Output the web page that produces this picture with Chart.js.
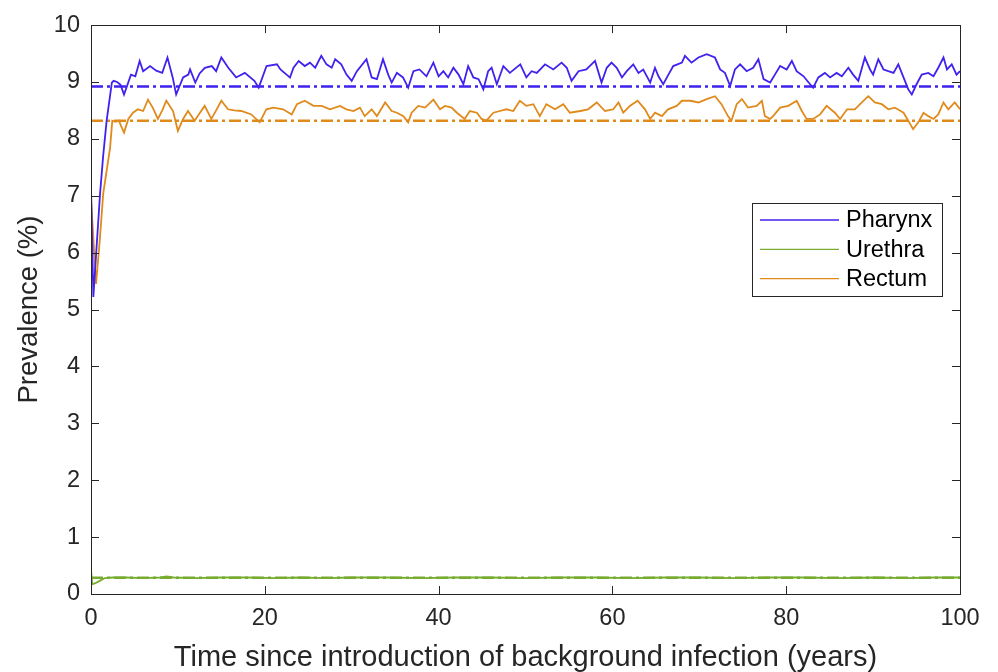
<!DOCTYPE html>
<html>
<head>
<meta charset="utf-8">
<script src="https://cdn.jsdelivr.net/npm/chart.js@4/dist/chart.umd.min.js"></script>
<style>
  html, body { margin: 0; padding: 0; background: #fff; }
  #wrap { width: 998px; height: 672px; position: relative; }
</style>
</head>
<body>
<div id="wrap"><canvas id="prev_chart"></canvas></div>
<script>
// [years, prevalence %]
const pharynx = [[0, 7.15], [0.27, 5.22], [0.6, 6.0], [1.04, 7.03], [1.4, 7.7], [1.8, 8.32], [2.4, 8.99], [2.6, 9.02], [3.0, 9.0], [3.4, 8.95], [3.8, 8.78], [4.6, 9.13], [5.1, 9.1], [5.6, 9.37], [6.0, 9.19], [6.8, 9.28], [7.5, 9.2], [8.2, 9.16], [8.8, 9.43], [9.4, 9.08], [9.8, 8.78], [10.6, 9.08], [11.2, 9.13], [11.4, 9.22], [12.0, 8.99], [12.5, 9.15], [13.1, 9.25], [13.9, 9.28], [14.4, 9.19], [15.0, 9.43], [15.8, 9.25], [16.7, 9.08], [17.7, 9.16], [18.8, 9.02], [19.3, 8.90], [20.2, 9.28], [21.4, 9.31], [21.8, 9.22], [22.5, 9.13], [22.9, 9.08], [23.3, 9.25], [23.9, 9.37], [24.6, 9.28], [25.2, 9.34], [25.8, 9.25], [26.5, 9.46], [27.1, 9.31], [27.7, 9.25], [28.1, 9.40], [28.8, 9.31], [29.4, 9.13], [30.0, 9.02], [30.6, 9.19], [31.7, 9.40], [32.3, 9.08], [32.9, 9.05], [33.6, 9.40], [34.2, 9.13], [34.6, 8.99], [35.2, 9.16], [35.9, 9.08], [36.5, 8.90], [37.1, 9.19], [37.8, 9.22], [38.6, 9.10], [39.4, 9.34], [40.0, 9.10], [40.55, 9.19], [41.1, 9.08], [41.7, 9.25], [42.3, 9.13], [42.85, 8.96], [43.4, 9.28], [44.0, 9.08], [44.6, 9.05], [45.15, 8.87], [45.7, 9.19], [46.1, 9.25], [46.7, 8.96], [47.45, 9.28], [48.2, 9.16], [49.4, 9.31], [50.1, 9.08], [50.7, 9.19], [51.3, 9.16], [52.25, 9.31], [53.2, 9.22], [54.15, 9.34], [54.75, 9.25], [55.3, 9.02], [56.1, 9.19], [57.0, 9.22], [58.0, 9.37], [58.75, 8.99], [59.35, 9.25], [59.9, 9.34], [60.5, 9.25], [61.1, 9.08], [61.65, 9.19], [62.4, 9.31], [63.0, 9.16], [63.55, 9.22], [64.35, 8.99], [64.9, 9.25], [65.3, 9.10], [65.85, 8.96], [66.45, 9.13], [67.0, 9.28], [68.0, 9.34], [68.35, 9.46], [69.1, 9.34], [69.9, 9.43], [70.85, 9.49], [71.8, 9.43], [72.4, 9.22], [72.95, 9.16], [73.55, 8.93], [74.1, 9.22], [74.7, 9.31], [75.45, 9.19], [76.2, 9.25], [76.8, 9.40], [77.4, 9.05], [78.15, 8.99], [78.7, 9.13], [79.3, 9.28], [80.05, 9.22], [80.65, 9.37], [81.2, 9.19], [82.0, 9.10], [82.75, 8.96], [83.1, 8.90], [83.7, 9.08], [84.45, 9.16], [85.05, 9.08], [85.8, 9.16], [86.4, 9.10], [87.15, 9.25], [87.7, 9.13], [88.3, 9.02], [89.05, 9.43], [89.65, 9.22], [90.0, 9.13], [90.6, 9.40], [91.2, 9.22], [91.75, 9.19], [92.35, 9.16], [92.9, 9.31], [93.5, 9.08], [94.05, 8.87], [94.45, 8.78], [95.0, 8.96], [95.6, 9.13], [96.35, 9.16], [96.95, 9.10], [97.5, 9.25], [98.1, 9.43], [98.5, 9.22], [99.05, 9.31], [99.6, 9.13], [100, 9.19]];

const urethra = [[0, 0.42], [0.15, 0.17], [0.5, 0.19], [1.0, 0.23], [1.6, 0.28], [2.5, 0.29], [4, 0.29], [6, 0.28], [8, 0.29], [8.7, 0.31], [9.5, 0.29], [12, 0.28], [15, 0.29], [18, 0.29], [21, 0.28], [24, 0.29], [27, 0.28], [30, 0.29], [34, 0.29], [38, 0.28], [42, 0.29], [46, 0.29], [50, 0.28], [54, 0.29], [58, 0.29], [62, 0.28], [66, 0.29], [70, 0.29], [74, 0.28], [78, 0.29], [82, 0.29], [86, 0.28], [90, 0.29], [94, 0.28], [97, 0.29], [100, 0.29]];

const rectum = [[0, 6.95], [0.58, 5.45], [1.0, 6.2], [1.4, 7.03], [2.2, 7.85], [2.45, 8.32], [2.8, 8.30], [3.2, 8.32], [3.8, 8.11], [4.3, 8.35], [4.83, 8.46], [5.4, 8.52], [6.0, 8.49], [6.56, 8.69], [7.1, 8.55], [7.7, 8.35], [8.2, 8.50], [8.67, 8.67], [9.44, 8.49], [10.0, 8.14], [10.6, 8.35], [11.16, 8.49], [11.93, 8.32], [12.5, 8.45], [13.08, 8.58], [13.85, 8.35], [14.4, 8.50], [15.0, 8.67], [15.76, 8.52], [16.5, 8.50], [17.3, 8.49], [18.45, 8.43], [19.41, 8.29], [20.18, 8.52], [21.0, 8.55], [22.1, 8.52], [23.1, 8.43], [23.7, 8.61], [24.6, 8.67], [25.6, 8.58], [26.55, 8.58], [27.5, 8.52], [28.65, 8.58], [29.4, 8.52], [30.2, 8.49], [30.95, 8.55], [31.5, 8.40], [32.3, 8.52], [32.9, 8.40], [33.85, 8.64], [34.6, 8.49], [35.2, 8.46], [35.95, 8.40], [36.5, 8.29], [36.9, 8.46], [37.65, 8.58], [38.45, 8.55], [39.4, 8.69], [40.16, 8.52], [40.74, 8.58], [41.5, 8.55], [42.1, 8.46], [43.0, 8.35], [43.6, 8.49], [44.4, 8.46], [44.95, 8.35], [45.5, 8.32], [46.3, 8.46], [47.05, 8.49], [47.8, 8.52], [48.6, 8.49], [49.35, 8.67], [50.1, 8.58], [50.9, 8.61], [51.65, 8.40], [52.4, 8.61], [53.4, 8.52], [54.35, 8.61], [55.1, 8.46], [56.3, 8.49], [57.2, 8.52], [58.2, 8.64], [59.15, 8.49], [60.1, 8.52], [60.7, 8.64], [61.25, 8.46], [62.0, 8.58], [62.9, 8.67], [63.75, 8.52], [64.35, 8.35], [64.9, 8.46], [65.7, 8.40], [66.4, 8.52], [67.4, 8.58], [68.0, 8.67], [69.0, 8.67], [69.9, 8.64], [70.85, 8.70], [71.8, 8.75], [72.55, 8.61], [73.3, 8.40], [73.7, 8.32], [74.3, 8.61], [74.9, 8.70], [75.6, 8.55], [76.6, 8.58], [77.2, 8.67], [77.55, 8.40], [78.15, 8.35], [78.5, 8.40], [79.3, 8.55], [80.25, 8.58], [81.2, 8.67], [81.8, 8.49], [82.35, 8.35], [83.1, 8.35], [83.9, 8.43], [84.65, 8.58], [85.6, 8.46], [86.2, 8.35], [87.0, 8.52], [87.9, 8.52], [88.7, 8.64], [89.45, 8.75], [90.2, 8.64], [91.0, 8.61], [91.75, 8.52], [92.5, 8.55], [93.5, 8.46], [94.05, 8.32], [94.6, 8.17], [95.2, 8.29], [95.8, 8.46], [96.35, 8.40], [96.95, 8.35], [97.5, 8.43], [98.1, 8.64], [98.65, 8.52], [99.4, 8.64], [100, 8.52]];

// equilibrium levels (dash-dot lines)
const siteNames = ['Pharynx', 'Urethra', 'Rectum'];
const equilibrium = [8.92, 0.285, 8.32];
const siteColors = ['#3f22ee', '#77ac30', '#e08a1c'];

const FONT = "'Liberation Sans', Arial, Helvetica, sans-serif";
const INK = '#262626';

function toPoints(arr) {
    return arr.map(function (p) { return {x: p[0], y: p[1]}; });
}

let series = [pharynx, urethra, rectum];
let datasets = [];

series.forEach(function (s, i) {
    datasets.push({
        label: siteNames[i],
        data: toPoints(s),
        borderColor: siteColors[i],
        borderWidth: 1.8,
        pointRadius: 0,
        tension: 0,
        fill: false
    });
});

equilibrium.forEach(function (v, i) {
    datasets.push({
        label: siteNames[i] + ' equilibrium',
        data: [{x: 0, y: v}, {x: 100, y: v}],
        borderColor: siteColors[i],
        borderWidth: 2.4,
        borderDash: [12, 4, 3, 4],
        pointRadius: 0,
        fill: false
    });
});

// box round the axes with inward ticks on all four sides
const axesBox = {
    id: 'axesBox',
    afterDatasetsDraw(chart) {
        const ctx = chart.ctx;
        const a = chart.chartArea;
        const xs = chart.scales.x;
        const ys = chart.scales.y;
        const len = 8;
        ctx.save();
        ctx.strokeStyle = INK;
        ctx.lineWidth = 1;
        ctx.beginPath();
        xs.ticks.forEach(function (t) {
            let px = Math.round(xs.getPixelForValue(t.value)) + 0.5;
            ctx.moveTo(px, a.bottom); ctx.lineTo(px, a.bottom - len);
            ctx.moveTo(px, a.top); ctx.lineTo(px, a.top + len);
        });
        ys.ticks.forEach(function (t) {
            let py = Math.round(ys.getPixelForValue(t.value)) + 0.5;
            ctx.moveTo(a.left, py); ctx.lineTo(a.left + len, py);
            ctx.moveTo(a.right, py); ctx.lineTo(a.right - len, py);
        });
        ctx.stroke();
        ctx.strokeRect(Math.round(a.left) + 0.5, Math.round(a.top) + 0.5,
            Math.round(a.width), Math.round(a.height));
        ctx.restore();
    }
};

// legend drawn inside the plot like the original
const innerLegend = {
    id: 'innerLegend',
    afterDraw(chart) {
        const ctx = chart.ctx;
        const left = 752, top = 203, w = 190, h = 93;
        ctx.save();
        ctx.fillStyle = '#fff';
        ctx.fillRect(left, top, w, h);
        ctx.strokeStyle = INK;
        ctx.lineWidth = 1;
        ctx.strokeRect(left + 0.5, top + 0.5, w, h);
        ctx.font = '23.5px ' + FONT;
        ctx.textBaseline = 'middle';
        ctx.fillStyle = '#000';
        siteNames.forEach(function (name, i) {
            let y = top + 17 + i * 29.3;
            ctx.strokeStyle = siteColors[i];
            ctx.lineWidth = 1.3;
            ctx.beginPath();
            ctx.moveTo(760, y); ctx.lineTo(839, y);
            ctx.stroke();
            ctx.fillText(name, 846, y + 1);
        });
        ctx.restore();
    }
};

new Chart(document.getElementById('prev_chart'), {
    type: 'line',
    data: {datasets: datasets},
    plugins: [axesBox, innerLegend],
    options: {
        responsive: true,
        maintainAspectRatio: false,
        animation: false,
        layout: {padding: {left: 0, right: 38, top: 24, bottom: 0}},
        plugins: {
            legend: {display: false},
            tooltip: {enabled: false}
        },
        scales: {
            x: {
                type: 'linear',
                min: 0,
                max: 100,
                afterFit: function (scale) { scale.height = 78; },
                grid: {display: false, drawTicks: false},
                border: {display: false},
                ticks: {
                    stepSize: 20,
                    padding: 10,
                    color: INK,
                    font: {family: FONT, size: 23.5}
                },
                title: {
                    display: true,
                    text: 'Time since introduction of background infection (years)',
                    color: INK,
                    padding: {top: 0, bottom: 0},
                    font: {family: FONT, size: 29, lineHeight: 1}
                }
            },
            y: {
                min: 0,
                max: 10,
                afterFit: function (scale) { scale.width = 91; },
                grid: {display: false, drawTicks: false},
                border: {display: false},
                ticks: {
                    stepSize: 1,
                    padding: 11,
                    color: INK,
                    font: {family: FONT, size: 23.5}
                },
                title: {
                    display: true,
                    text: 'Prevalence (%)',
                    color: INK,
                    padding: {top: 16, bottom: 0},
                    font: {family: FONT, size: 27.5, lineHeight: 1}
                }
            }
        }
    }
});
</script>
</body>
</html>
